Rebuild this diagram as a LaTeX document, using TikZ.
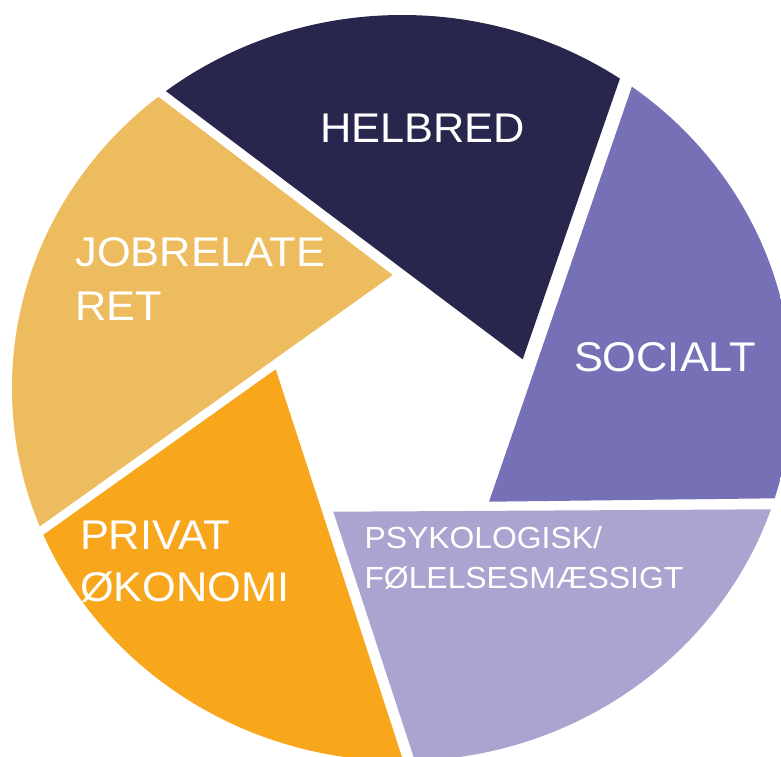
\documentclass[tikz,border=0pt]{standalone}
\usepackage{fontspec}
\setmainfont[FakeStretch=1.045]{Liberation Sans}
\usetikzlibrary{calc}

\definecolor{cHelbred}{HTML}{28264D}
\definecolor{cSocialt}{HTML}{7671B6}
\definecolor{cPsyk}{HTML}{A9A5D0}
\definecolor{cOkonomi}{HTML}{F8A61C}
\definecolor{cJob}{HTML}{ECBC5E}

\begin{document}
\begin{tikzpicture}[x=1pt,y=-1pt,
  biglabel/.style={text=white, inner sep=0pt, outer sep=0pt, anchor=base west,
                   font=\fontsize{41.5}{53}\selectfont},
  smalllabel/.style={text=white, inner sep=0pt, outer sep=0pt, anchor=base west,
                     font=\fontsize{30.5}{40}\selectfont}]
\useasboundingbox (0,0) rectangle (781,756);

% inner tips of the five blades and one point on each of their two edges
\coordinate (hT) at (522.7,359.3); \coordinate (hA) at (166.7,91.7);  \coordinate (hB) at (618.3,83.3);
\coordinate (sT) at (489.0,501.7); \coordinate (sA) at (631.7,87.3);  \coordinate (sB) at (775.0,498.3);
\coordinate (pT) at (333.3,511.7); \coordinate (pA) at (770.0,509.3); \coordinate (pB) at (413.3,756.0);
\coordinate (oT) at (275.7,369.3); \coordinate (oA) at (401.7,756.0); \coordinate (oB) at (47.7,531.7);
\coordinate (jT) at (392.7,275.0); \coordinate (jA) at (39.3,526.7);  \coordinate (jB) at (161.7,99.3);

% each blade is a wedge from its tip, cut by the outer rim
\begin{scope}
  \clip (402,388) ellipse [x radius=390, y radius=373];
  \fill[cHelbred] (hT) -- ($(hT)!4!(hA)$) -- ($(hT)!4!(hB)$) -- cycle;
  \fill[cSocialt] (sT) -- ($(sT)!4!(sA)$) -- ($(sT)!4!(sB)$) -- cycle;
  \fill[cPsyk]    (pT) -- ($(pT)!4!(pA)$) -- ($(pT)!4!(pB)$) -- cycle;
  \fill[cOkonomi] (oT) -- ($(oT)!4!(oA)$) -- ($(oT)!4!(oB)$) -- cycle;
  \fill[cJob]     (jT) -- ($(jT)!4!(jA)$) -- ($(jT)!4!(jB)$) -- cycle;
\end{scope}

% labels
\node[biglabel] (helbred) at (320.0,142.5) {HELBRED};
\node[biglabel] (socialt) at (574.0,371.7) {SOCIALT};
\node[biglabel] (jobA)    at (75.5,266.5)  {JOBRELATE};
\node[biglabel] (jobB)    at (75.5,320.5)  {RET};
\node[biglabel] (okoA)    at (80.0,549.3)  {PRIVAT};
\node[biglabel] (okoB)    at (80.0,601.7)  {ØKONOMI};
\node[smalllabel] (psykA) at (364.5,548.3) {PSYKOLOGISK/};
\node[smalllabel] (psykB) at (364.5,588.3) {FØLELSESMÆSSIGT};
\end{tikzpicture}
\end{document}
